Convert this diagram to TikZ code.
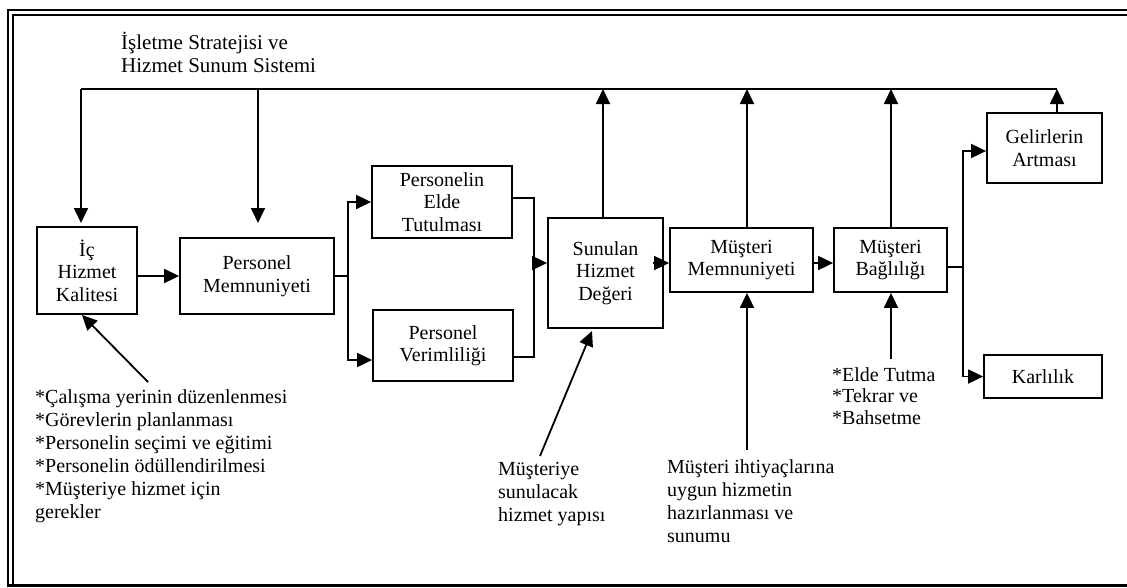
\documentclass[tikz,border=0pt]{standalone}
\usepackage{fontspec}
\setmainfont{Liberation Serif}
\usetikzlibrary{arrows.meta}
\begin{document}
\begin{tikzpicture}[x=1pt,y=-1pt,
  every node/.style={inner sep=0pt},
  box/.style={draw, line width=1.8pt, align=center, font=\fontsize{20}{22.5}\selectfont},
  conn/.style={line width=1.8pt},
  arr/.style={conn, -{Triangle[length=15pt,width=14pt]}},
  note/.style={anchor=north west, align=left, font=\fontsize{20}{23}\selectfont},
  frame/.style={line width=2pt}]
\useasboundingbox (0,0) rectangle (1127,587);

% double frame (top and left), single bottom rule
\draw[frame] (7.5,587) -- (7.5,10) -- (1127,10);
\draw[frame] (12.5,585) -- (12.5,15) -- (1127,15);
\draw[line width=2.4pt] (7.5,585.5) -- (1127,585.5);

% heading
\node[note, font=\fontsize{21}{23}\selectfont] (title) at (121,31.9)
  {\strut İşletme Stratejisi ve\\Hizmet Sunum Sistemi};

% boxes
\node[box, minimum width=100pt, minimum height=87pt] (ic)  at (87,270.5)   {İç\\Hizmet\\Kalitesi};
\node[box, minimum width=154pt, minimum height=76pt] (pm)  at (257,276)    {Personel\\Memnuniyeti};
\node[box, minimum width=140pt, minimum height=72pt] (pet) at (442,202)    {Personelin\\Elde\\Tutulması};
\node[box, minimum width=140pt, minimum height=71pt] (pv)  at (443,345.5)  {Personel\\Verimliliği};
\node[box, minimum width=115pt, minimum height=110pt] (shd) at (605.5,273) {Sunulan\\Hizmet\\Değeri};
\node[box, minimum width=143pt, minimum height=64pt] (mm)  at (741.5,260)  {Müşteri\\Memnuniyeti};
\node[box, minimum width=113pt, minimum height=64pt] (mb)  at (890.5,260)  {Müşteri\\Bağlılığı};
\node[box, minimum width=115pt, minimum height=70pt] (ga)  at (1044.5,148) {Gelirlerin\\Artması};
\node[box, minimum width=118pt, minimum height=43pt] (ka)  at (1043,376.5) {Karlılık};

% notes
\node[note] (n1) at (35,387)
  {\strut *Çalışma yerinin düzenlenmesi\\*Görevlerin planlanması\\*Personelin seçimi ve eğitimi\\*Personelin ödüllendirilmesi\\*Müşteriye hizmet için\\gerekler};
\node[note] (n2) at (498,459) {\strut Müşteriye\\sunulacak\\hizmet yapısı};
\node[note] (n3) at (667,457) {\strut Müşteri ihtiyaçlarına\\uygun hizmetin\\hazırlanması ve\\sunumu};
\node[note, font=\fontsize{20}{21.5}\selectfont] (n4) at (832,366) {\strut *Elde Tutma\\*Tekrar ve\\*Bahsetme};

% junction points
\coordinate (tl)  at (81,89);
\coordinate (tp)  at (258,89);
\coordinate (ts)  at (603,89);
\coordinate (tm)  at (747,89);
\coordinate (tb)  at (891,89);
\coordinate (tg)  at (1057,89);
\coordinate (icin) at (81,223);
\coordinate (pmin) at (258,223);
\coordinate (b1) at (348,276);
\coordinate (b2) at (534,263);
\coordinate (b3) at (963,267);
\coordinate (n1end) at (148,382);
\coordinate (n2end) at (540,456);
\coordinate (n3end) at (747,450);
\coordinate (n4end) at (891,359);

% strategy feedback line along the top
\draw[conn] (tl) -- (tg);
\draw[arr] (tl) -- (icin);
\draw[arr] (tp) -- (pmin);
\draw[arr] (shd.north -| ts) -- (ts);
\draw[arr] (mm.north -| tm) -- (tm);
\draw[arr] (mb.north -| tb) -- (tb);
\draw[arr] (ga.north -| tg) -- (tg);

% main chain
\draw[arr] (ic.east |- pm) -- (pm.west);
\draw[conn] (pm.east) -- (b1);
\draw[arr] (b1) |- (pet.west |- 0,202);
\draw[arr] (b1) |- (pv.west |- 0,360);
\draw[conn] (pet.east |- 0,198) -| (b2);
\draw[conn] (pv.east |- 0,357) -| (b2);
\draw[arr] (b2) -- (shd.west |- b2);
\draw[arr] ([xshift=-11pt]shd.east |- 0,263) -- (mm.west |- 0,263);
\draw[arr] (mm.east |- 0,263) -- (mb.west |- 0,263);
\draw[conn] (mb.east |- b3) -- (b3);
\draw[arr] (b3) |- (ga.west |- 0,151);
\draw[arr] (b3) |- (ka.west);

% inputs from below
\draw[arr] (n1end) -- (82,315);
\draw[arr] (n2end) -- (592,331);
\draw[arr] (n3end) -- (mm.south -| n3end);
\draw[arr] (n4end) -- (mb.south -| n4end);
\end{tikzpicture}
\end{document}
